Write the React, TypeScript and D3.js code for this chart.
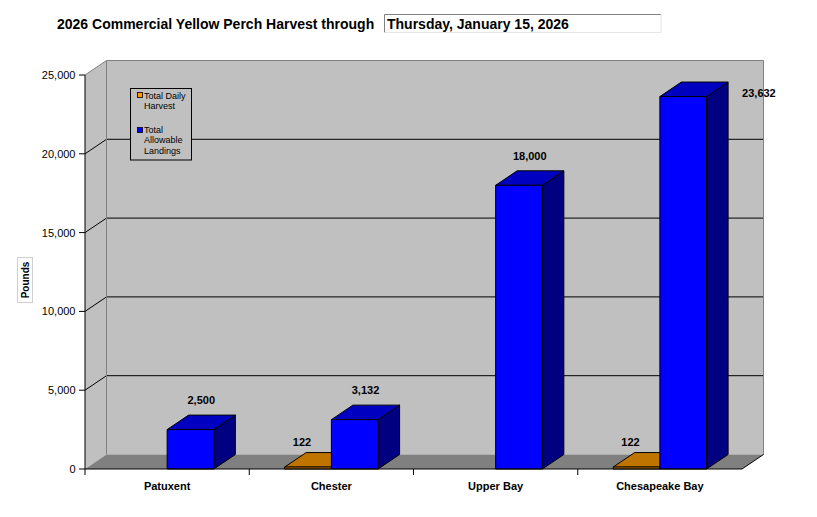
import React from "react";
import * as d3 from "d3";

const categories = ["Patuxent", "Chester", "Upper Bay", "Chesapeake Bay"];
const seriesNames = ["Total Daily Harvest", "Total Allowable Landings"];
const dailyHarvest: (number | null)[] = [null, 122, null, 122];
const allowableLandings: number[] = [2500, 3132, 18000, 23632];
const yTicks = [0, 5000, 10000, 15000, 20000, 25000];
const titleText = "2026 Commercial Yellow Perch Harvest through";
const dateText = "Thursday, January 15, 2026";
const yAxisTitle = "Pounds";

const W = 817;
const H = 517;
const left = 85;
const right = 742;
const bottom = 469;
const top = 75;
const DX = 21.5;
const DY = 14.5;

const palettes = [
  { front: "#FF9900", top: "#C07400", side: "#805000" },
  { front: "#0000FF", top: "#0000C0", side: "#000080" },
];

export default function App() {
  const y = d3.scaleLinear().domain([0, 25000]).range([bottom, top]);
  const x = d3.scaleBand<string>().domain(categories).range([left, right]).paddingInner(0).paddingOuter(0);
  const bw = x.bandwidth();
  const groupW = bw * 0.569;
  const inner = d3
    .scaleBand<string>()
    .domain(seriesNames)
    .range([(bw - groupW) / 2, (bw + groupW) / 2])
    .padding(0);
  const barW = inner.bandwidth();
  const fmt = d3.format(",");
  const y0 = y(0);
  const wallL = left + DX;
  const wallR = right + DX;
  const wallT = top - DY;
  const wallB = bottom - DY;

  const series = [dailyHarvest, allowableLandings];
  const maxVal = d3.max(allowableLandings) as number;

  const bars: React.ReactNode[] = [];
  const labels: React.ReactNode[] = [];
  categories.forEach((c, ci) => {
    series.forEach((s, si) => {
      const v = s[ci];
      if (v == null) return;
      const x0 = (x(c) as number) + (inner(seriesNames[si]) as number);
      const x1 = x0 + barW;
      const yt = y(v);
      const p = palettes[si];
      const pts = (arr: number[][]) => arr.map((a) => a.join(",")).join(" ");
      bars.push(
        <g key={`b${ci}-${si}`} stroke="#000" strokeWidth={1} strokeLinejoin="round">
          <polygon points={pts([[x1, yt], [x1 + DX, yt - DY], [x1 + DX, y0 - DY], [x1, y0]])} fill={p.side} />
          <polygon points={pts([[x0, yt], [x0 + DX, yt - DY], [x1 + DX, yt - DY], [x1, yt]])} fill={p.top} />
          <rect x={x0} y={yt} width={barW} height={y0 - yt} fill={p.front} />
        </g>
      );
      let lx: number;
      let ly: number;
      let anchor: "middle" | "start" = "middle";
      if (si === 0) {
        lx = x0 + barW / 2 - 6;
        ly = yt - DY - 7;
      } else if (v > maxVal * 0.95) {
        lx = x1 + DX + 14;
        ly = yt + 0.5;
        anchor = "start";
      } else {
        lx = x0 + barW / 2 + DX / 2;
        ly = yt - DY - 11;
      }
      labels.push(
        <text key={`l${ci}-${si}`} x={lx} y={ly} textAnchor={anchor} fontFamily="Liberation Sans, Arial, sans-serif" fontWeight="bold" fontSize={11} fill="#000">
          {fmt(v)}
        </text>
      );
    });
  });

  return (
    <svg width={W} height={H} style={{ position: "absolute", left: 0, top: 0, background: "#fff" }}>
      {/* Title */}
      <text x={57} y={28.5} fontFamily="Liberation Sans, Arial, sans-serif" fontWeight="bold" fontSize={14} fill="#000">
        {titleText}
      </text>
      <rect x={384.5} y={14.5} width={276.5} height={18} fill="#fff" stroke="none" />
      <line x1={384.5} y1={14.5} x2={661} y2={14.5} stroke="#808080" />
      <line x1={384.5} y1={14.5} x2={384.5} y2={32.5} stroke="#808080" />
      <line x1={661} y1={14.5} x2={661} y2={32.5} stroke="#e6e6e6" />
      <line x1={384.5} y1={32.5} x2={661} y2={32.5} stroke="#e6e6e6" />
      <text x={387} y={29} fontFamily="Liberation Sans, Arial, sans-serif" fontWeight="bold" fontSize={14} fill="#000">
        {dateText}
      </text>

      {/* Back wall */}
      <rect x={wallL} y={wallT} width={wallR - wallL} height={wallB - wallT} fill="#C0C0C0" />
      {/* Left wall */}
      <polygon points={`${left},${top} ${wallL},${wallT} ${wallL},${wallB} ${left},${bottom}`} fill="#C0C0C0" />
      {/* Gridlines */}
      {yTicks.filter((t) => t > 0 && t < 25000).map((t) => (
        <g key={`g${t}`}>
          <line x1={wallL} x2={wallR} y1={y(t) - DY} y2={y(t) - DY} stroke="#000" strokeWidth={1} />
          <line x1={left} x2={wallL} y1={y(t)} y2={y(t) - DY} stroke="#000" strokeWidth={1} />
        </g>
      ))}
      {/* Wall edges */}
      <line x1={wallL} x2={wallL} y1={wallT} y2={wallB} stroke="#808080" />
      <line x1={wallL} x2={wallR} y1={wallT} y2={wallT} stroke="#808080" />
      <line x1={wallR} x2={wallR} y1={wallT} y2={wallB} stroke="#808080" />
      <line x1={left} x2={wallL} y1={top} y2={wallT} stroke="#808080" />
      {/* Floor */}
      <polygon points={`${left},${bottom} ${wallL},${wallB} ${wallR},${wallB} ${right},${bottom}`} fill="#808080" />
      <line x1={right} y1={bottom} x2={wallR} y2={wallB} stroke="#000" />

      {/* Legend */}
      <rect x={130.5} y={88.5} width={61} height={71.5} fill="#C0C0C0" stroke="#000" />
      <rect x={137.5} y={92.5} width={5} height={5} fill={palettes[0].front} stroke="#000" strokeWidth={0.8} />
      <text fontFamily="Liberation Sans, Arial, sans-serif" fontSize={9} fill="#000">
        <tspan x={144} y={98.5}>Total Daily</tspan>
        <tspan x={144} y={108.5}>Harvest</tspan>
      </text>
      <rect x={137.5} y={127.5} width={5} height={5} fill={palettes[1].front} stroke="#000" strokeWidth={0.8} />
      <text fontFamily="Liberation Sans, Arial, sans-serif" fontSize={9} fill="#000">
        <tspan x={144} y={132.5}>Total</tspan>
        <tspan x={144} y={143}>Allowable</tspan>
        <tspan x={144} y={153.5}>Landings</tspan>
      </text>

      {/* Bars */}
      {bars}
      {labels}

      {/* Axes */}
      <line x1={left} x2={left} y1={top} y2={bottom} stroke="#000" />
      <line x1={left} x2={right} y1={bottom} y2={bottom} stroke="#000" />
      {yTicks.map((t) => (
        <g key={`yt${t}`}>
          <line x1={left - 6} x2={left} y1={y(t)} y2={y(t)} stroke="#000" />
          <text x={75.5} y={y(t) + 4} textAnchor="end" fontFamily="Liberation Sans, Arial, sans-serif" fontSize={11} fill="#000">
            {fmt(t)}
          </text>
        </g>
      ))}
      {categories.map((c) => (
        <g key={`xt${c}`}>
          <line x1={x(c) as number} x2={x(c) as number} y1={bottom} y2={bottom + 6} stroke="#000" />
          <text x={(x(c) as number) + bw / 2} y={490} textAnchor="middle" fontFamily="Liberation Sans, Arial, sans-serif" fontWeight="bold" fontSize={11} fill="#000">
            {c}
          </text>
        </g>
      ))}

      {/* Y axis title */}
      <rect x={17.5} y={257.5} width={15} height={45} fill="#fff" stroke="#d0d0d0" />
      <text transform="translate(29,280) rotate(-90)" textAnchor="middle" fontFamily="Liberation Sans, Arial, sans-serif" fontWeight="bold" fontSize={10} fill="#000">
        {yAxisTitle}
      </text>
    </svg>
  );
}
